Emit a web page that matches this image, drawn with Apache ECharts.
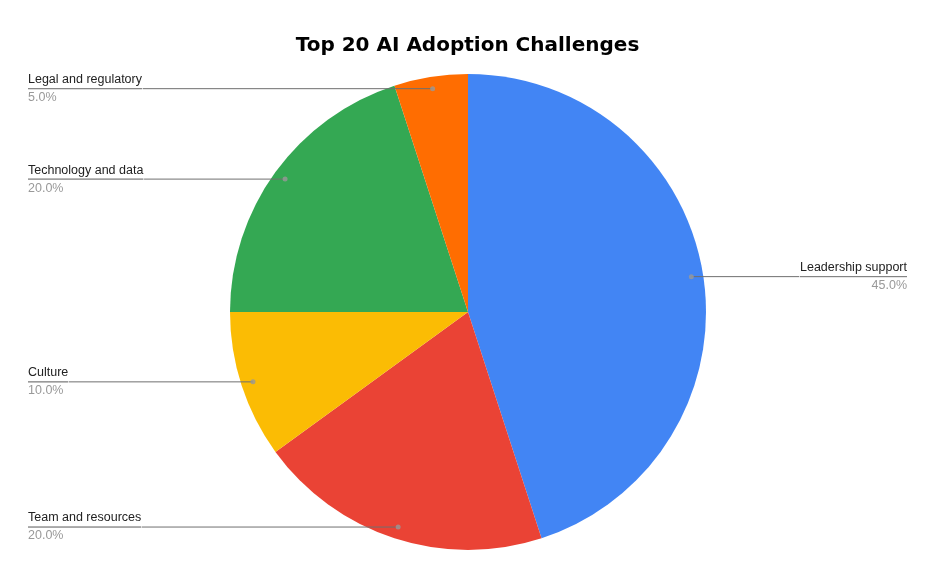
<!DOCTYPE html>
<html>
<head>
<meta charset="utf-8">
<script src="https://cdn.jsdelivr.net/npm/echarts@6/dist/echarts.min.js"></script>
<style>
html,body{margin:0;padding:0;background:#fff;}
#main{width:935px;height:579px;}
</style>
</head>
<body>
<div id="main"></div>
<script>
const categories = ["Leadership support", "Team and resources", "Culture", "Technology and data", "Legal and regulatory"];
const values = [45, 20, 10, 20, 5];
const colors = ["#4285F4", "#EA4335", "#FBBC04", "#34A853", "#FF6D01"];

const total = values.reduce((a, b) => a + b, 0);
const pieData = categories.map((c, i) => ({ name: c, value: values[i], itemStyle: { color: colors[i] } }));
let cum = 0;
const dotData = values.map(v => { const mid = cum + v / 2; cum += v; return [0.95, mid]; });

const center = [468, 312];
const R = 238;

const chart = echarts.init(document.getElementById('main'));
chart.setOption({
  animation: false,
  title: {
    text: 'Top 20 AI Adoption Challenges',
    left: 'center',
    top: 31,
    textStyle: { fontFamily: 'DejaVu Sans', fontWeight: 'bold', fontSize: 20, color: '#000' }
  },
  polar: { center: center, radius: R },
  angleAxis: { type: 'value', min: 0, max: total, startAngle: 90, clockwise: true, show: false },
  radiusAxis: { type: 'value', min: 0, max: 1, show: false },
  series: [
    {
      type: 'pie',
      center: center,
      radius: R,
      startAngle: 90,
      clockwise: true,
      silent: true,
      label: { show: false },
      labelLine: { show: false },
      itemStyle: { borderWidth: 0 },
      data: pieData,
      z: 1
    },
    {
      type: 'pie',
      center: center,
      radius: R * 0.95,
      startAngle: 90,
      clockwise: true,
      silent: true,
      avoidLabelOverlap: true,
      itemStyle: { color: 'rgba(0,0,0,0)', borderWidth: 0 },
      label: {
        show: true,
        position: 'outer',
        alignTo: 'edge',
        edgeDistance: 28,
        distanceToLabelLine: 0,
        formatter: function (p) {
          return '{a|' + p.name + '}\n{hr|}\n{b|' + (p.value / total * 100).toFixed(1) + '%}';
        },
        rich: {
          a: { fontFamily: 'Liberation Sans', fontSize: 12.5, color: '#222', lineHeight: 18 },
          hr: { borderColor: '#6f6f6f', borderWidth: 0.7, width: '100%', height: 0 },
          b: { fontFamily: 'Liberation Sans', fontSize: 12.5, color: '#999', lineHeight: 18 }
        }
      },
      labelLine: {
        show: true,
        length: 0,
        length2: 10,
        lineStyle: { color: '#6f6f6f', width: 1 }
      },
      data: pieData.map(d => ({ name: d.name, value: d.value })),
      z: 2
    },
    {
      type: 'scatter',
      coordinateSystem: 'polar',
      symbol: 'circle',
      symbolSize: 5,
      silent: true,
      itemStyle: { color: '#999' },
      data: dotData,
      z: 3
    }
  ]
});
</script>
</body>
</html>
